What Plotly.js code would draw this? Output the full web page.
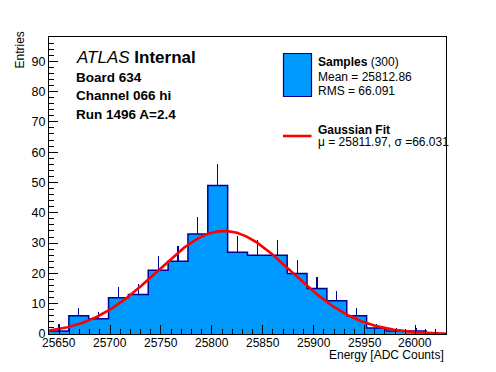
<!DOCTYPE html>
<html>
<head>
<meta charset="utf-8">
<script src="https://cdn.plot.ly/plotly-3.0.1.min.js"></script>
<style>html,body{margin:0;padding:0;background:#fff;}#plot{width:496px;height:372px;}</style>
</head>
<body>
<div id="plot"></div>
<script>
// ---- data ----
const binLow = 25640;
const binWidth = 19.5;
const counts = [1, 6, 5, 12, 13, 21, 24, 33, 49, 27, 26, 26, 20, 15, 11, 6, 2, 1, 1, 0];
const errUp  = [2.2, 2.45, 2.24, 3.46, 3.61, 4.58, 4.9, 5.74, 7, 5.2, 5.1, 5.1, 4.47, 3.87, 3.32, 2.45, 1.41, 1, 1, 0];
const fitMu = 25811.97;
const fitSigma = 66.031;
const fitAmp = 34.0;
const xTickVals = [25650, 25700, 25750, 25800, 25850, 25900, 25950, 26000];
const yTickVals = [0, 10, 20, 30, 40, 50, 60, 70, 80, 90];
const headerLines = ["<i>ATLAS</i> <b>Internal</b>", "<b>Board 634</b>", "<b>Channel 066 hi</b>", "<b>Run 1496 A=2.4</b>"];
const legendSamples = ["<b>Samples</b> (300)", "Mean = 25812.86", "RMS = 66.091"];
const legendFit = ["<b>Gaussian Fit</b>", "\u03bc = 25811.97, \u03c3 =66.031"];

// ---- derived ----
const nb = counts.length;
const xMin = binLow, xMax = binLow + nb * binWidth;
const centers = counts.map((_, i) => binLow + (i + 0.5) * binWidth);
const edges = []; const stepY = [];
for (let i = 0; i <= nb; i++) { edges.push(binLow + i * binWidth); stepY.push(i < nb ? counts[i] : counts[nb - 1]); }
const fx = [], fy = [];
for (let i = 0; i <= 300; i++) {
  const x = xMin + (xMax - xMin) * i / 300;
  fx.push(x); fy.push(fitAmp * Math.exp(-0.5 * Math.pow((x - fitMu) / fitSigma, 2)));
}

// ---- layout geometry (pixels) ----
const W = 496, H = 372, L = 49, R = 50, T = 37, B = 38;
const pw = W - L - R, ph = H - T - B;
const PX = x => (x - L) / pw;
const PY = y => (H - B - y) / ph;
const FONT = "Liberation Sans, Arial, Helvetica, sans-serif";
const navy = "#000099", fill = "#0099ff";

const traces = [
  { type: "bar", x: centers, y: counts, width: binWidth,
    marker: { color: fill, line: { width: 0 } },
    error_y: { type: "data", symmetric: false, array: errUp, arrayminus: counts.map(() => 0),
               width: 0, thickness: 1.2, color: navy },
    hoverinfo: "skip", showlegend: false },
  { type: "scatter", mode: "lines", x: edges, y: stepY, line: { shape: "hv", color: navy, width: 1.5 },
    hoverinfo: "skip", showlegend: false },
  { type: "scatter", mode: "lines", x: fx, y: fy, line: { color: "#ff0000", width: 2.6 },
    hoverinfo: "skip", showlegend: false, cliponaxis: true }
];

const ann = [];
function txt(text, x, y, size, opts) {
  ann.push(Object.assign({ text: text, xref: "paper", yref: "paper", x: PX(x), y: PY(y),
    xanchor: "left", yanchor: "middle", showarrow: false,
    font: { family: FONT, size: size, color: "#000" } }, opts || {}));
}
const headerY = [57.5, 77, 95.5, 114];
headerLines.forEach((t, i) => txt(t, 74, headerY[i], i === 0 ? 17 : 13.5));
const sampY = [61.5, 76.5, 90.5];
legendSamples.forEach((t, i) => txt(t, 316, sampY[i], 12));
const fitY = [129.5, 141.5];
legendFit.forEach((t, i) => txt(t, 316, fitY[i], 12));
txt("Entries", 19.5, 50, 12, { xanchor: "center", textangle: -90 });
txt("Energy [ADC Counts]", 446, 354.5, 12, { xanchor: "right" });
// x tick labels (placed close under the axis as in the reference)
xTickVals.forEach(v => ann.push({ text: String(v), xref: "x", yref: "paper", x: v, y: PY(342.5),
  xanchor: "center", yanchor: "middle", showarrow: false, font: { family: FONT, size: 12, color: "#000" } }));

const shapes = [
  { type: "rect", xref: "paper", yref: "paper", x0: PX(283.5), x1: PX(311.5), y0: PY(96.5), y1: PY(53.5),
    fillcolor: fill, line: { color: navy, width: 1.2 } },
  { type: "line", xref: "paper", yref: "paper", x0: PX(283), x1: PX(311.5), y0: PY(136), y1: PY(136),
    line: { color: "#ff0000", width: 2.6 } }
];

const layout = {
  width: W, height: H,
  margin: { l: L, r: R, t: T, b: B, pad: 0 },
  paper_bgcolor: "#fff", plot_bgcolor: "#fff",
  bargap: 0, showlegend: false,
  font: { family: FONT, size: 12, color: "#000" },
  xaxis: { range: [xMin, xMax], tickmode: "array", tickvals: xTickVals, showticklabels: false,
           ticks: "inside", ticklen: 9, tickwidth: 1, tickcolor: "#000",
           minor: { ticks: "inside", dtick: 10, tick0: 25650, ticklen: 5, tickwidth: 1, tickcolor: "#000" },
           showgrid: false, zeroline: false, showline: true, mirror: true, linecolor: "#000", linewidth: 1,
           fixedrange: true },
  yaxis: { range: [0, 98], tickmode: "array", tickvals: yTickVals, ticktext: yTickVals.map(String),
           ticks: "inside", ticklen: 9, tickwidth: 1, tickcolor: "#000",
           minor: { ticks: "inside", dtick: 2, tick0: 0, ticklen: 5, tickwidth: 1, tickcolor: "#000" },
           showgrid: false, zeroline: false, showline: true, mirror: true, linecolor: "#000", linewidth: 1,
           tickfont: { family: FONT, size: 12.5 }, fixedrange: true },
  annotations: ann, shapes: shapes
};

Plotly.newPlot("plot", traces, layout, { staticPlot: true, displayModeBar: false });
</script>
</body>
</html>
